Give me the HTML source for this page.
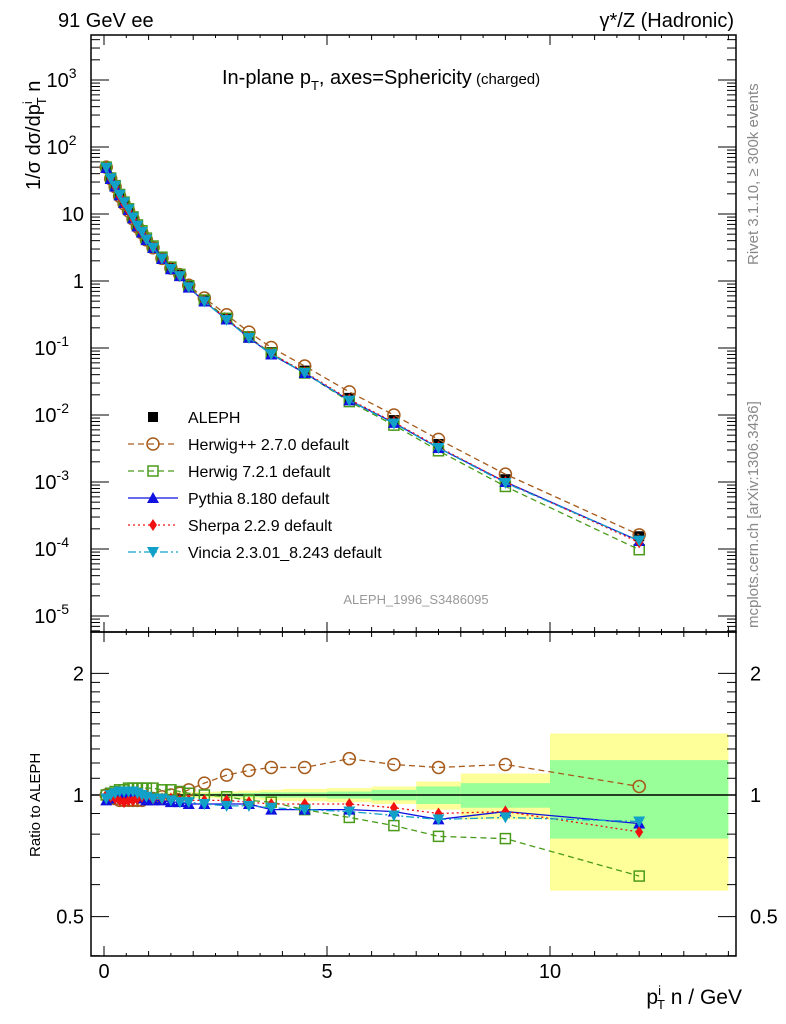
<!DOCTYPE html>
<html><head><meta charset="utf-8"><style>
body{margin:0;background:#fff;}
svg{display:block;font-family:"Liberation Sans",sans-serif;}
</style></head><body>
<svg id="chart" width="786" height="1024" viewBox="0 0 786 1024">
<text x="58" y="27" font-size="20">91 GeV ee</text>
<text x="734" y="27" font-size="20" text-anchor="end">γ*/Z (Hadronic)</text>
<text x="222" y="84" font-size="20">In-plane p<tspan font-size="13" dy="6">T</tspan><tspan dy="-6">, axes=Sphericity</tspan><tspan font-size="15"> (charged)</tspan></text>
<text transform="translate(758,265) rotate(-90)" font-size="15" fill="#888">Rivet 3.1.10, ≥ 300k events</text>
<text transform="translate(758,628) rotate(-90)" font-size="15" fill="#888">mcplots.cern.ch [arXiv:1306.3436]</text>
<text x="416" y="604" font-size="13" fill="#999" text-anchor="middle">ALEPH_1996_S3486095</text>
<text transform="translate(40,190) rotate(-90)" font-size="20">1/σ dσ/dp<tspan font-size="13" dy="-8">i</tspan><tspan font-size="13" dy="14" dx="-4">T</tspan><tspan dy="-6"> n</tspan></text>
<text transform="translate(40,857) rotate(-90)" font-size="15">Ratio to ALEPH</text>
<text x="742" y="1004" font-size="21" text-anchor="end">p<tspan font-size="13" dy="-9">i</tspan><tspan font-size="13" dy="14" dx="-4">T</tspan><tspan dy="-5"> n / GeV</tspan></text>
<g id="g"></g>
</svg>
<script>
const binLo=[0,0.1,0.2,0.3,0.4,0.5,0.6,0.7,0.8,0.9,1.0,1.2,1.4,1.6,1.8,2.0,2.5,3.0,3.5,4.0,5.0,6.0,7.0,8.0,10.0];
const binHi=[0.1,0.2,0.3,0.4,0.5,0.6,0.7,0.8,0.9,1.0,1.2,1.4,1.6,1.8,2.0,2.5,3.0,3.5,4.0,5.0,6.0,7.0,8.0,10.0,14.0];
const xVals=[0.05,0.15,0.25,0.35,0.45,0.55,0.65,0.75,0.85,0.95,1.1,1.3,1.5,1.7,1.9,2.25,2.75,3.25,3.75,4.5,5.5,6.5,7.5,9,12];
const aleph=[50,34,26,19,14.6,11.5,8.7,6.6,5.4,4.2,3.2,2.2,1.56,1.23,0.84,0.52,0.28,0.15,0.087,0.046,0.018,0.0084,0.0037,0.0011,0.000155];
const statErr=[0.005,0.005,0.005,0.005,0.005,0.005,0.005,0.005,0.005,0.006,0.006,0.006,0.007,0.007,0.008,0.008,0.01,0.012,0.015,0.015,0.02,0.03,0.05,0.07,0.22];
const totErr=[0.012,0.012,0.012,0.012,0.012,0.012,0.012,0.012,0.012,0.013,0.013,0.014,0.015,0.015,0.016,0.018,0.02,0.025,0.03,0.035,0.04,0.05,0.08,0.13,0.42];
const rHerwigpp=[1.0,0.99,0.98,0.97,0.97,0.97,0.97,0.97,0.97,0.98,0.98,0.99,1.0,1.01,1.03,1.07,1.12,1.15,1.17,1.17,1.23,1.19,1.17,1.19,1.05];
const rHerwig7=[1.0,1.01,1.02,1.03,1.03,1.04,1.04,1.04,1.04,1.04,1.04,1.03,1.03,1.02,1.01,1.0,0.99,0.97,0.96,0.92,0.88,0.84,0.79,0.78,0.63];
const rPythia=[0.97,0.98,0.99,1.0,1.0,1.0,0.99,0.99,0.98,0.97,0.97,0.97,0.96,0.96,0.95,0.95,0.95,0.95,0.92,0.92,0.92,0.91,0.87,0.91,0.85];
const rSherpa=[1.0,0.99,0.98,0.97,0.96,0.97,0.97,0.98,0.99,1.0,0.98,0.98,0.98,0.97,0.97,0.97,0.97,0.96,0.95,0.95,0.95,0.93,0.9,0.91,0.81];
const rVincia=[0.98,1.0,1.01,1.02,1.02,1.02,1.02,1.01,1.0,0.99,0.98,0.98,0.97,0.96,0.96,0.95,0.94,0.94,0.93,0.92,0.91,0.89,0.87,0.88,0.86];
const yTicks=["10^{-5}","10^{-4}","10^{-3}","10^{-2}","10^{-1}","1","10","10^{2}","10^{3}"];
const xTicks=[0,5,10];
const rTicks=[0.5,1,2];

const NS="http://www.w3.org/2000/svg";
const G=document.getElementById('g');
function mk(tag,at,parent){const e=document.createElementNS(NS,tag);for(const k in at)e.setAttribute(k,at[k]);(parent||G).appendChild(e);return e;}
const L=91,R=736,T=35,MB=632,RB=956;
const X=v=>104+v*44.6;
const Y=v=>281-Math.log10(v)*67;
const RY=v=>795-Math.log10(v)*404;

// ratio bands
for(let i=0;i<xVals.length;i++){
 let r=mk('rect',{x:X(binLo[i]),width:X(binHi[i])-X(binLo[i]),y:RY(1+totErr[i]),height:RY(1-totErr[i])-RY(1+totErr[i]),fill:'#ffff99'});
 
 
 let s=mk('rect',{x:X(binLo[i]),width:X(binHi[i])-X(binLo[i]),y:RY(1+statErr[i]),height:RY(1-statErr[i])-RY(1+statErr[i]),fill:'#99ff99'});
 
 
}
let one=mk('line',{x1:L,x2:R,y1:RY(1),y2:RY(1),stroke:'#000','stroke-width':1.5});



// frames
for(const [t,b,n] of [[T,MB,'main-frame'],[MB,RB,'ratio-frame']]){
 let f=mk('rect',{x:L,y:t,width:R-L,height:b-t,fill:'none',stroke:'#000','stroke-width':1.5});
 
 
}
// x ticks
for(const [t,b] of [[T,MB],[MB,RB]]){
 for(let v=0;v<=14;v+=0.5){const maj=v%5===0;const h=maj?10:(v%1===0?5:3);
  mk('line',{x1:X(v),x2:X(v),y1:b,y2:b-h,stroke:'#000'});mk('line',{x1:X(v),x2:X(v),y1:t,y2:t+h,stroke:'#000'});}
}
xTicks.forEach(v=>{let t=mk('text',{x:X(v),y:978,'font-size':20,'text-anchor':'middle'});t.textContent=v;
 });
// y ticks main
for(let d=-6;d<=3;d++){for(let m=1;m<10;m++){const v=m*Math.pow(10,d);const y=Y(v);if(y<T||y>MB)continue;const h=m===1?18:9;
 mk('line',{x1:L,x2:L+h,y1:y,y2:y,stroke:'#000'});mk('line',{x1:R,x2:R-h,y1:y,y2:y,stroke:'#000'});}}
yTicks.forEach((s,i)=>{const y=Y(Math.pow(10,i-5));const m=s.match(/\^\{(.*)\}/);
 let t=mk('text',{x:m?62:84,y:y+7,'font-size':20,'text-anchor':'end'});
 if(m){t.textContent='10';let sp=mk('tspan',{'font-size':14,dy:-9},t);sp.textContent=m[1];t.setAttribute('x',84-(m[1].length*7.5));}
 else t.textContent=s;
 });
// ratio ticks
[0.4,0.5,0.6,0.7,0.8,0.9,1,1.1,1.2,1.3,1.4,1.5,1.6,1.7,1.8,1.9,2].forEach(v=>{const y=RY(v);if(y<MB||y>RB)return;const h=(v===0.5||v===1||v===2)?18:9;
 mk('line',{x1:L,x2:L+h,y1:y,y2:y,stroke:'#000'});mk('line',{x1:R,x2:R-h,y1:y,y2:y,stroke:'#000'});});
rTicks.forEach(v=>{for(const [x,a] of [[84,'end'],[750,'start']]){let t=mk('text',{x:x,y:RY(v)+7,'font-size':20,'text-anchor':a});t.textContent=v;
 }});

function marker(type,x,y,col,p){
 const s=5;
 if(type==='sq')return mk('rect',{x:x-s,y:y-s,width:2*s,height:2*s,fill:col},p);
 if(type==='osq')return mk('rect',{x:x-s,y:y-s,width:2*s,height:2*s,fill:'none',stroke:col,'stroke-width':1.5},p);
 if(type==='oc')return mk('circle',{cx:x,cy:y,r:s+1,fill:'none',stroke:col,'stroke-width':1.5},p);
 if(type==='tu')return mk('polygon',{points:`${x},${y-s-1} ${x+s+1},${y+s} ${x-s-1},${y+s}`,fill:col},p);
 if(type==='td')return mk('polygon',{points:`${x},${y+s+1} ${x+s+1},${y-s} ${x-s-1},${y-s}`,fill:col},p);
 if(type==='di')return mk('polygon',{points:`${x},${y-s-1} ${x+s-1},${y} ${x},${y+s+1} ${x-s+1},${y}`,fill:col},p);
}
// data (drawn first, MC on top)
const gd=mk('g',{});
xVals.forEach((x,i)=>{let a=marker('sq',X(x),Y(aleph[i]),'#000',gd);});

const series=[
 ['herwigpp',rHerwigpp,'#a65a1a','6,4','oc','Herwig++ 2.7.0 default'],
 ['herwig7',rHerwig7,'#4a9a1a','6,4','osq','Herwig 7.2.1 default'],
 ['pythia',rPythia,'#1010e0','','tu','Pythia 8.180 default'],
 ['sherpa',rSherpa,'#f01010','2,3','di','Sherpa 2.2.9 default'],
 ['vincia',rVincia,'#10a0c8','8,3,2,3','td','Vincia 2.3.01_8.243 default']];
series.forEach(([id,r,col,dash,mt])=>{
 const gm=mk('g',{});
 const gr=mk('g',{});
 const pm=xVals.map((x,i)=>X(x)+','+Y(aleph[i]*r[i])).join(' ');
 const pr=xVals.map((x,i)=>X(x)+','+RY(r[i])).join(' ');
 mk('polyline',{points:pm,fill:'none',stroke:col,'stroke-width':1.3,'stroke-dasharray':dash},gm);
 mk('polyline',{points:pr,fill:'none',stroke:col,'stroke-width':1.3,'stroke-dasharray':dash},gr);
 xVals.forEach((x,i)=>{let a=marker(mt,X(x),Y(aleph[i]*r[i]),col,gm);
  let b=marker(mt,X(x),RY(r[i]),col,gr);});
});

// legend
const lg=mk('g',{});
const ly0=417,ldy=27;
let e0=marker('sq',153,ly0,'#000',lg);
let t0=mk('text',{x:188,y:ly0+6,'font-size':16},lg);t0.textContent='ALEPH';
series.forEach(([id,r,col,dash,mt,lab],k)=>{const y=ly0+ldy*(k+1);
 mk('line',{x1:128,x2:178,y1:y,y2:y,stroke:col,'stroke-width':1.3,'stroke-dasharray':dash},lg);
 let m=marker(mt,153,y,col,lg);
 let t=mk('text',{x:188,y:y+6,'font-size':16},lg);t.textContent=lab;
 });
</script>
</body></html>
